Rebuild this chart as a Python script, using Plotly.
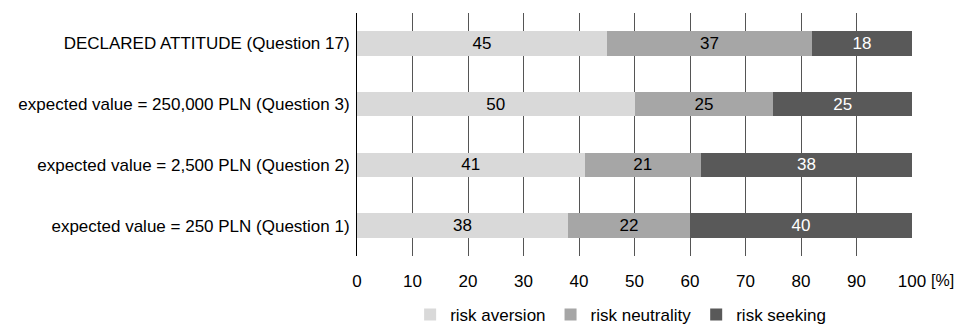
import plotly.graph_objects as go

categories = [
    "expected value = 250 PLN (Question 1)",
    "expected value = 2,500 PLN (Question 2)",
    "expected value = 250,000 PLN (Question 3)",
    "DECLARED ATTITUDE (Question 17)",
]
risk_aversion = [38, 41, 50, 45]
risk_neutrality = [22, 21, 25, 37]
risk_seeking = [40, 38, 25, 18]
series_names = ["risk aversion", "risk neutrality", "risk seeking"]
tick_vals = [0, 10, 20, 30, 40, 50, 60, 70, 80, 90, 100]

FONT = "Liberation Sans Narrow, Arial Narrow, Liberation Sans, Arial, sans-serif"
FS = 17
colors = ["#d9d9d9", "#a6a6a6", "#595959"]
text_colors = ["#000000", "#000000", "#ffffff"]

fig = go.Figure()
for name, vals, c, tc in zip(series_names, [risk_aversion, risk_neutrality, risk_seeking], colors, text_colors):
    fig.add_trace(go.Bar(
        y=categories, x=vals, name=name, orientation="h",
        marker=dict(color=c, line=dict(width=0)),
        text=[str(v) for v in vals], textposition="inside",
        insidetextanchor="middle", constraintext="none", textangle=0,
        textfont=dict(family=FONT, size=FS, color=tc),
    ))

# page has an 8px body margin, so the figure is 8px smaller and shifted
fig.update_layout(
    barmode="stack",
    bargap=0.6,
    width=955, height=318,
    margin=dict(l=349, r=51, t=5, b=70, autoexpand=False),
    paper_bgcolor="white", plot_bgcolor="white",
    font=dict(family=FONT, size=FS, color="#000000"),
    legend=dict(
        orientation="h", x=0.475, xanchor="center", y=-0.243, yanchor="middle",
        font=dict(family=FONT, size=FS), traceorder="normal",
        itemwidth=30,
    ),
    xaxis=dict(
        range=[0, 100], tickvals=tick_vals, ticktext=[str(v) for v in tick_vals],
        showgrid=True, gridcolor="#555555", gridwidth=1,
        zeroline=False, showline=False, ticks="", ticklen=0,
        tickfont=dict(family=FONT, size=FS), automargin=False,
        ticklabelstandoff=13,
    ),
    yaxis=dict(
        showgrid=False, showline=True, linecolor="#000000", linewidth=1,
        ticks="", tickfont=dict(family=FONT, size=FS), ticklabelstandoff=3,
        automargin=False,
    ),
    annotations=[dict(
        text="[%]", xref="paper", yref="paper", x=1.08, y=-0.099,
        xanchor="right", yanchor="middle", showarrow=False,
        font=dict(family=FONT, size=16),
    )],
)

fig.write_html("out.html")
